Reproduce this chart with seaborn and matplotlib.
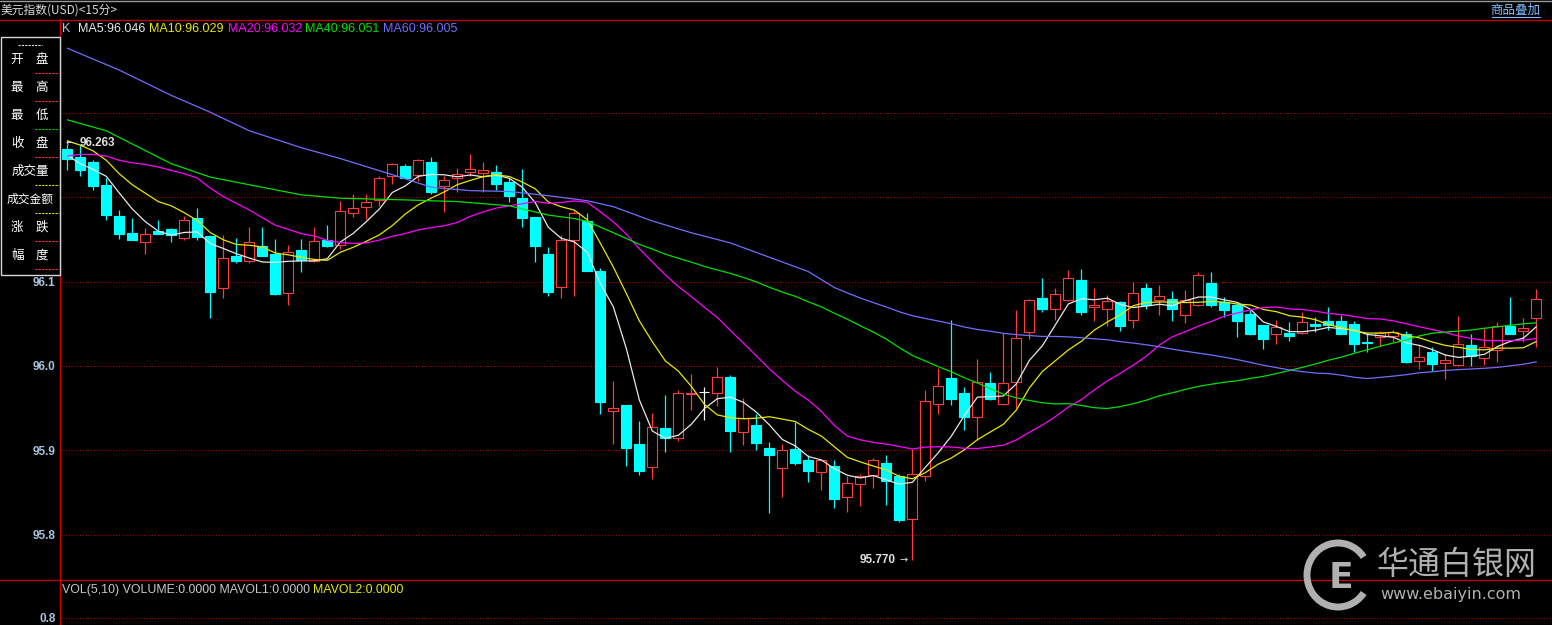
import numpy as np
import pandas as pd
import seaborn as sns
import matplotlib.pyplot as plt
from matplotlib.patches import Rectangle, Arc

# US dollar index, 15-minute bars
opens = [96.257, 96.248, 96.242, 96.215, 96.178, 96.158, 96.147, 96.160, 96.162, 96.152,
         96.175, 96.154, 96.092, 96.131, 96.125, 96.142, 96.133, 96.087, 96.138, 96.124,
         96.149, 96.144, 96.182, 96.189, 96.197, 96.225, 96.237, 96.226, 96.242, 96.213,
         96.223, 96.230, 96.229, 96.230, 96.218, 96.199, 96.177, 96.133, 96.094, 96.149,
         96.172, 96.113, 95.947, 95.954, 95.907, 95.880, 95.927, 95.915, 95.967, 95.969,
         95.968, 95.987, 95.922, 95.930, 95.903, 95.879, 95.901, 95.889, 95.874, 95.881,
         95.844, 95.860, 95.871, 95.885, 95.870, 95.819, 95.869, 95.955, 95.986, 95.968,
         95.940, 95.980, 95.955, 95.981, 96.040, 96.081, 96.067, 96.078, 96.102, 96.070,
         96.068, 96.076, 96.054, 96.093, 96.078, 96.080, 96.061, 96.072, 96.099, 96.076,
         96.072, 96.062, 96.049, 96.038, 96.039, 96.039, 96.050, 96.053, 96.053, 96.050,
         96.028, 96.034, 96.035, 96.038, 96.006, 96.016, 96.003, 96.001, 96.025, 96.009,
         96.019, 96.047, 96.041, 96.057]
highs = [96.263, 96.262, 96.244, 96.223, 96.185, 96.176, 96.164, 96.173, 96.164, 96.178,
         96.187, 96.155, 96.155, 96.152, 96.165, 96.165, 96.151, 96.144, 96.151, 96.165,
         96.167, 96.196, 96.204, 96.204, 96.225, 96.241, 96.240, 96.245, 96.248, 96.225,
         96.235, 96.252, 96.242, 96.238, 96.223, 96.234, 96.177, 96.141, 96.155, 96.184,
         96.182, 96.116, 95.982, 95.954, 95.935, 95.944, 95.966, 95.972, 95.990, 95.975,
         95.999, 95.989, 95.962, 95.943, 95.910, 95.907, 95.934, 95.894, 95.889, 95.889,
         95.869, 95.872, 95.891, 95.894, 95.872, 95.902, 95.972, 95.998, 96.055, 95.975,
         96.008, 95.993, 96.039, 96.066, 96.079, 96.104, 96.093, 96.114, 96.115, 96.093,
         96.084, 96.077, 96.100, 96.099, 96.096, 96.089, 96.090, 96.111, 96.111, 96.082,
         96.075, 96.066, 96.049, 96.055, 96.052, 96.064, 96.058, 96.070, 96.061, 96.053,
         96.039, 96.041, 96.043, 96.041, 96.025, 96.022, 96.014, 96.059, 96.038, 96.045,
         96.052, 96.082, 96.057, 96.091]
lows = [96.232, 96.225, 96.209, 96.173, 96.151, 96.150, 96.133, 96.156, 96.147, 96.149,
        96.149, 96.057, 96.081, 96.122, 96.122, 96.130, 96.084, 96.072, 96.111, 96.123,
        96.141, 96.139, 96.177, 96.174, 96.190, 96.216, 96.223, 96.219, 96.204, 96.183,
        96.206, 96.225, 96.206, 96.209, 96.194, 96.165, 96.123, 96.083, 96.081, 96.083,
        96.113, 95.943, 95.908, 95.881, 95.871, 95.866, 95.898, 95.911, 95.948, 95.936,
        95.952, 95.898, 95.906, 95.900, 95.826, 95.845, 95.882, 95.862, 95.853, 95.832,
        95.827, 95.834, 95.855, 95.835, 95.815, 95.770, 95.863, 95.943, 95.954, 95.924,
        95.912, 95.960, 95.954, 95.950, 96.032, 96.064, 96.055, 96.077, 96.060, 96.053,
        96.047, 96.041, 96.045, 96.068, 96.061, 96.053, 96.051, 96.071, 96.070, 96.058,
        96.034, 96.037, 96.020, 96.026, 96.030, 96.038, 96.040, 96.043, 96.038, 96.016,
        96.016, 96.024, 96.029, 96.003, 95.997, 95.994, 95.984, 96.000, 96.000, 96.001,
        96.005, 96.038, 96.029, 96.023]
closes = [96.245, 96.232, 96.213, 96.179, 96.157, 96.150, 96.157, 96.157, 96.155, 96.173,
          96.153, 96.088, 96.128, 96.124, 96.147, 96.130, 96.085, 96.135, 96.126, 96.148,
          96.142, 96.184, 96.187, 96.195, 96.223, 96.240, 96.223, 96.244, 96.206, 96.221,
          96.228, 96.234, 96.233, 96.216, 96.202, 96.175, 96.142, 96.088, 96.150, 96.181,
          96.113, 95.957, 95.950, 95.903, 95.876, 95.928, 95.914, 95.968, 95.968, 95.969,
          95.987, 95.923, 95.938, 95.909, 95.894, 95.900, 95.885, 95.875, 95.889, 95.842,
          95.861, 95.869, 95.889, 95.863, 95.817, 95.872, 95.958, 95.976, 95.961, 95.939,
          95.981, 95.961, 95.980, 96.033, 96.078, 96.068, 96.085, 96.104, 96.064, 96.072,
          96.077, 96.048, 96.086, 96.072, 96.083, 96.068, 96.078, 96.108, 96.072, 96.066,
          96.053, 96.038, 96.032, 96.046, 96.035, 96.052, 96.047, 96.049, 96.038, 96.026,
          96.027, 96.039, 96.040, 96.005, 96.011, 96.002, 96.007, 96.026, 96.012, 96.022,
          96.048, 96.038, 96.045, 96.080]

ma5_head = [96.250, 96.240, 96.233, 96.225]
ma10_head = [96.267, 96.262, 96.255, 96.244, 96.228, 96.215, 96.205, 96.195, 96.190]
ma20_head = [96.249, 96.251, 96.251, 96.249, 96.244, 96.241, 96.239, 96.236, 96.232, 96.228,
             96.223, 96.211, 96.201, 96.193, 96.185, 96.176, 96.167, 96.162, 96.157]
ma40_head_idx = [0, 3, 8, 11, 15, 18, 21, 26, 30, 34, 37]
ma40_head = [96.292, 96.279, 96.240, 96.224, 96.212, 96.203, 96.199, 96.197, 96.195, 96.190, 96.179]
ma60_head_idx = [0, 4, 8, 11, 14, 18, 21, 25, 28, 31, 34, 37, 40, 42, 45, 48, 51, 54, 57]
ma60_head = [96.377, 96.351, 96.321, 96.301, 96.279, 96.259, 96.246, 96.227, 96.212, 96.208,
             96.207, 96.202, 96.196, 96.189, 96.172, 96.158, 96.146, 96.129, 96.112]

price_ticks = [96.1, 96.0, 95.9, 95.8]
grid_levels = [96.3, 96.2, 96.1, 96.0, 95.9, 95.8]
ma_labels = ["MA5:96.046", "MA10:96.029", "MA20:96.032", "MA40:96.051", "MA60:96.005"]
ma_colors = ["#e8e8e8", "#e8e800", "#ff00ff", "#00e000", "#6f6fff"]

W, H = 1552, 625
CJK = ["Noto Sans CJK SC", "DejaVu Sans"]
NUM = ["Liberation Sans", "DejaVu Sans"]

sns.set_theme(style="dark", rc={"axes.facecolor": "black", "figure.facecolor": "black"})
plt.rcParams["font.family"] = ["Liberation Sans", "Noto Sans CJK SC", "DejaVu Sans"]

fig = plt.figure(figsize=(W / 100, H / 100), dpi=100, facecolor="black")

# ---- price panel ----
ax = fig.add_axes([60 / W, (H - 579) / H, (W - 60) / W, (579 - 19) / H])
ax.set_facecolor("black")
ax.set_xlim(-0.56, 114.2)
ax.set_ylim(95.7473, 96.4116)

df = pd.DataFrame({"open": opens, "high": highs, "low": lows, "close": closes})
df["idx"] = np.arange(len(df))
rise = df["close"] > df["open"]
fall = df["close"] < df["open"]
line_col = np.where(rise, "#ff3b3b", np.where(fall, "#00ffff", "#ffffff"))
face_col = np.where(rise, "black", np.where(fall, "#00ffff", "#ffffff"))

for lv in grid_levels:
    ax.axhline(lv, color="#a00000", lw=0.8, ls=(0, (1, 1.5)), zorder=1)

ax.vlines(df["idx"], df["low"], df["high"], colors=line_col, linewidth=0.9, zorder=2)
ax.bar(df["idx"], (df["close"] - df["open"]).abs(), bottom=df[["open", "close"]].min(axis=1),
       width=0.76, color=face_col, edgecolor=line_col, linewidth=0.8, zorder=3)

s = pd.Series(closes)
ma5 = s.rolling(5).mean()
ma5.iloc[:4] = ma5_head
ma10 = s.rolling(10).mean()
ma10.iloc[:9] = ma10_head
ma20 = s.rolling(20).mean()
ma20.iloc[:19] = ma20_head
ma40_x = ma40_head_idx + list(range(39, len(s)))
ma40_y = ma40_head + s.rolling(40).mean().iloc[39:].tolist()
ma60_x = ma60_head_idx + list(range(59, len(s)))
ma60_y = ma60_head + s.rolling(60).mean().iloc[59:].tolist()

lines = [(df["idx"], ma5), (df["idx"], ma10), (df["idx"], ma20), (ma40_x, ma40_y), (ma60_x, ma60_y)]
for (xs, ys), c in zip(lines, ma_colors):
    sns.lineplot(x=list(xs), y=list(ys), ax=ax, color=c, linewidth=0.9,
                 estimator=None, sort=False, legend=False, zorder=4)

ax.set_xticks([])
ax.set_yticks(price_ticks)
ax.set_yticklabels([f"{t:.1f}" for t in price_ticks], color="#a9c2dc",
                   fontsize=8.5, fontweight="bold", family=NUM)
ax.tick_params(axis="y", length=0, pad=3)
ax.set_xlabel("")
ax.set_ylabel("")
for side in ["top", "right", "bottom"]:
    ax.spines[side].set_visible(False)
ax.spines["left"].set_color("#d00000")
ax.spines["left"].set_linewidth(1.0)
ax.grid(False)

# ---- volume panel (empty) ----
vax = fig.add_axes([60 / W, 0, (W - 60) / W, (H - 579) / H])
vax.set_facecolor("black")
vax.set_xlim(-0.56, 114.2)
vax.set_ylim(0.62, 1.77)
vax.axhline(0.8, color="#a00000", lw=0.8, ls=(0, (1, 1.5)))
vax.set_xticks([])
vax.set_yticks([0.8])
vax.set_yticklabels(["0.8"], color="#a9c2dc", fontsize=8.5, fontweight="bold", family=NUM)
vax.tick_params(axis="y", length=0, pad=3)
for side in ["top", "right", "bottom"]:
    vax.spines[side].set_visible(False)
vax.spines["left"].set_color("#d00000")
vax.spines["left"].set_linewidth(1.0)
vax.grid(False)

# ---- overlay for frame, labels and watermark (pixel coordinates) ----
ov = fig.add_axes([0, 0, 1, 1], zorder=10)
ov.set_xlim(0, W)
ov.set_ylim(H, 0)
ov.axis("off")
ov.patch.set_alpha(0)

ov.plot([0, W], [0.5, 0.5], color="#9a9a9a", lw=1)
ov.plot([0, W], [19.5, 19.5], color="#c00000", lw=1)
ov.plot([0, W], [579.5, 579.5], color="#c00000", lw=1)

ov.text(1, 10, "美元指数(USD)<15分>", color="#d8d8d8", fontsize=8.5, va="center", family=CJK)
ov.text(1540, 10, "商品叠加", color="#7fbfff", fontsize=9, va="center", ha="right", family=CJK)
ov.plot([1492, 1540], [17, 17], color="#7fbfff", lw=0.8)

ov.text(62, 29, "K", color="#b0c8e0", fontsize=9, va="center", family=NUM)
for lbl, c, x in zip(ma_labels, ma_colors, [78, 149, 228, 305, 383]):
    ov.text(x, 29, lbl, color=c, fontsize=9, va="center", family=NUM)

# left info box
ov.add_patch(Rectangle((0.5, 36.5), 59, 238.5, facecolor="black", edgecolor="#d8d8d8", lw=1, zorder=5))
ov.plot([18, 42], [45, 45], color="#e0e0e0", lw=0.8, ls=(0, (2, 1)), zorder=6)
pairs = [("开", "盘"), ("最", "高"), ("最", "低"), ("收", "盘")]
row_y = [59, 87, 115, 143, 171, 199, 227, 255]
sep_cols = ["#ff3030", "#ff3030", "#00d000", "#ff3030", "#e0e000", "#e0e000", "#ff3030", "#ff3030"]
for (a, b), y in zip(pairs, row_y[:4]):
    ov.text(17, y, a, color="white", fontsize=9, ha="center", va="center", family=CJK, zorder=6)
    ov.text(42, y, b, color="white", fontsize=9, ha="center", va="center", family=CJK, zorder=6)
ov.text(30, row_y[4], "成交量", color="white", fontsize=9, ha="center", va="center", family=CJK, zorder=6)
ov.text(30, row_y[5], "成交金额", color="white", fontsize=8.5, ha="center", va="center", family=CJK, zorder=6)
for (a, b), y in zip([("涨", "跌"), ("幅", "度")], row_y[6:]):
    ov.text(17, y, a, color="white", fontsize=9, ha="center", va="center", family=CJK, zorder=6)
    ov.text(42, y, b, color="white", fontsize=9, ha="center", va="center", family=CJK, zorder=6)
for y, c in zip(row_y, sep_cols):
    ov.plot([35, 59], [y + 13.5, y + 13.5], color=c, lw=0.8, ls=(0, (2, 1)), zorder=6)

# extreme price markers
ov.text(66, 143, "←", color="#e0e0e0", fontsize=7, va="center", family=["DejaVu Sans"])
ov.text(80, 143, "96.263", color="#e0e0e0", fontsize=8.5, fontweight="bold", va="center", family=NUM)
ov.text(860, 560, "95.770", color="#e0e0e0", fontsize=8.5, fontweight="bold", va="center", family=NUM)
ov.text(899, 560, "→", color="#e0e0e0", fontsize=7, va="center", family=["DejaVu Sans"])

# volume header
ov.text(62, 590, "VOL(5,10) VOLUME:0.0000 MAVOL1:0.0000", color="#c8c8c8", fontsize=8.9, va="center", family=NUM)
ov.text(313, 590, "MAVOL2:0.0000", color="#e8e800", fontsize=8.9, va="center", family=NUM)

# watermark
wm = "#b0b0b0"
ov.add_patch(Arc((1338, 575), 62, 64, theta1=35, theta2=325, color=wm, lw=5, zorder=7))
ov.text(1341, 578, "E", color=wm, fontsize=26, fontweight="bold", ha="center", va="center",
        family=["DejaVu Sans"], zorder=7)
ov.text(1377, 565, "华通白银网", color=wm, fontsize=23, va="center", family=CJK, zorder=7)
ov.text(1380, 594, "www.ebaiyin.com", color=wm, fontsize=11.5, va="center", family=["DejaVu Sans"], zorder=7)

fig.savefig("out.png", dpi=100, facecolor="black")
